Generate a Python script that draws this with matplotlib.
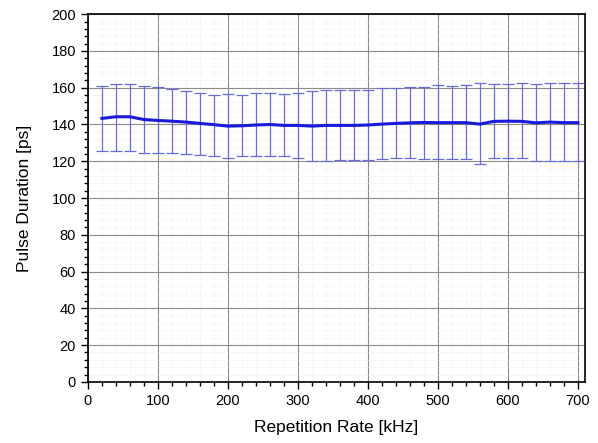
import matplotlib.pyplot as plt
from matplotlib.ticker import MultipleLocator

plt.rcParams['font.family'] = ['Liberation Sans', 'DejaVu Sans']

# repetition rate in kHz
rate = [20, 40, 60, 80, 100, 120, 140, 160, 180, 200, 220, 240,
        260, 280, 300, 320, 340, 360, 380, 400, 420, 440, 460, 480,
        500, 520, 540, 560, 580, 600, 620, 640, 660, 680, 700]

# mean pulse duration in ps
duration = [143.3, 144.2, 144.2, 142.7, 142.2, 141.8, 141.3, 140.6, 139.9, 139.1, 139.3, 139.7,
            140.0, 139.5, 139.5, 139.1, 139.5, 139.5, 139.5, 139.7, 140.2, 140.6, 140.9, 141.1,
            141.0, 141.0, 141.0, 140.2, 141.7, 141.8, 141.7, 140.9, 141.3, 141.0, 141.0]

# upper / lower ends of the error bars in ps
upper = [161.2, 162.1, 162.1, 161.2, 160.3, 159.2, 158.2, 156.9, 156.0, 156.4, 156.0, 156.9,
         156.9, 156.7, 156.9, 158.2, 158.7, 158.7, 158.7, 158.7, 159.6, 159.6, 160.5, 160.5,
         161.4, 161.0, 161.4, 162.3, 161.8, 161.8, 162.3, 161.8, 162.3, 162.3, 162.3]
lower = [125.7, 125.7, 125.4, 124.3, 124.6, 124.3, 123.9, 123.5, 122.7, 121.6, 122.7, 122.8,
         122.7, 122.7, 121.6, 120.3, 120.3, 120.7, 120.7, 120.7, 121.2, 121.6, 121.6, 121.2,
         121.0, 121.2, 121.2, 118.5, 121.6, 121.6, 121.6, 120.3, 120.3, 120.3, 120.3]

err_lo = [d - l for d, l in zip(duration, lower)]
err_hi = [u - d for u, d in zip(upper, duration)]

fig = plt.figure(figsize=(5.98, 4.43), dpi=100)
ax = fig.add_axes([0.147, 0.138, 0.831, 0.830])

ax.errorbar(rate, duration, yerr=[err_lo, err_hi], fmt='none', ecolor='#6a6ae0',
            elinewidth=0.9, capsize=4, capthick=0.9, zorder=3)
ax.plot(rate, duration, color='#1a1ad8', linewidth=2.2, zorder=4)

ax.set_xlim(0, 710)
ax.set_ylim(0, 200)
ax.xaxis.set_major_locator(MultipleLocator(100))
ax.xaxis.set_minor_locator(MultipleLocator(20))
ax.yaxis.set_major_locator(MultipleLocator(20))
ax.yaxis.set_minor_locator(MultipleLocator(4))

ax.grid(which='major', color='#8c8c8c', linewidth=0.8, zorder=1)
ax.grid(which='minor', color='#e4e4e4', linewidth=0.5, linestyle=':', zorder=1)
ax.set_axisbelow(True)

ax.tick_params(which='major', direction='out', length=5, width=1, labelsize=10.5)
ax.tick_params(which='minor', direction='out', length=3, width=1)
for s in ax.spines.values():
    s.set_linewidth(1.2)

ax.set_xlabel('Repetition Rate [kHz]', fontsize=12.5, labelpad=9)
ax.set_ylabel('Pulse Duration [ps]', fontsize=12.5, labelpad=14)

plt.savefig('out.png', dpi=100)
